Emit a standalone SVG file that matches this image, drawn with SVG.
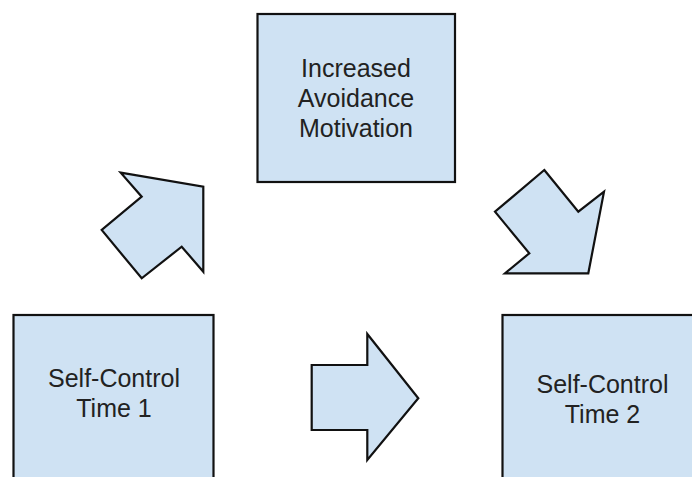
<svg xmlns="http://www.w3.org/2000/svg" width="692" height="477" viewBox="0 0 692 477">
<style>
.box{fill:#cfe2f3;stroke:#111;stroke-width:2.2}
.arrow{fill:#cfe2f3;stroke:#111;stroke-width:2.2;stroke-linejoin:miter}
.lbl{font-family:"Liberation Sans",Arial,sans-serif;font-size:25px;fill:#222;text-anchor:middle}
</style>
<rect width="692" height="477" fill="#ffffff"/>
<g id="node-avoidance">
<rect class="box" x="257.5" y="14" width="197.5" height="168"/>
<text class="lbl" x="356" y="77">Increased</text>
<text class="lbl" x="356" y="107">Avoidance</text>
<text class="lbl" x="356" y="137">Motivation</text>
</g>
<g id="node-time1">
<rect class="box" x="13.5" y="315" width="200" height="180"/>
<text class="lbl" x="114" y="387">Self-Control</text>
<text class="lbl" x="114" y="417">Time 1</text>
</g>
<g id="node-time2">
<rect class="box" x="502.5" y="315" width="200" height="180"/>
<text class="lbl" x="602.5" y="393">Self-Control</text>
<text class="lbl" x="602.5" y="423">Time 2</text>
</g>
<g id="connectors">
<polygon class="arrow" points="120.7,172.7 203.3,186.7 203.3,271.7 181.7,246.7 141.7,278.3 101.7,230 141.7,196.7"/>
<polygon class="arrow" points="544.3,170 578.3,211.7 604,191.7 588.3,273.3 505,273.3 529.3,253.3 495,211.7"/>
<polygon class="arrow" points="311.7,365 367.3,365 367.3,334 418.3,398.3 367.3,460 367.3,430 311.7,430"/>
</g>
</svg>
